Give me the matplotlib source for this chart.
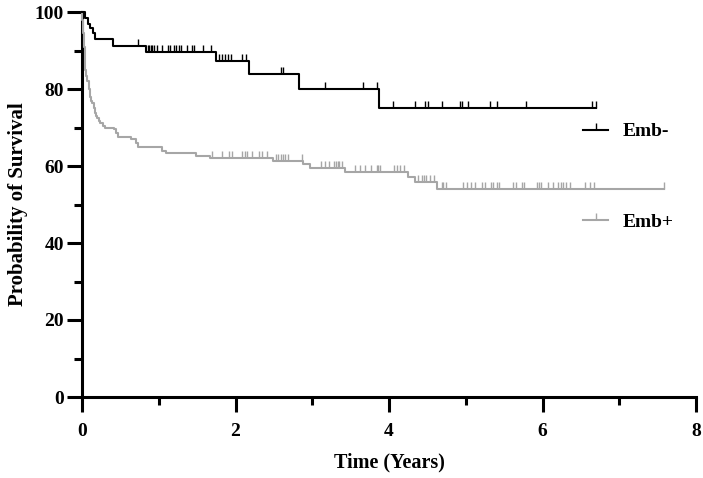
import numpy as np
import matplotlib.pyplot as plt
from matplotlib.lines import Line2D

# Emb- : step times (years) and survival (%)
neg_t = [0, 0.043, 0.078, 0.11, 0.14, 0.165, 0.40, 0.84, 1.75, 2.18, 2.83, 3.87]
neg_s = [100, 98.4, 97.0, 95.8, 94.5, 92.9, 91.2, 89.7, 87.3, 83.9, 79.9, 75.0]
neg_end = 6.70
neg_cens = [0.73, 0.856, 0.873, 0.895, 0.916, 0.934, 0.98, 1.045, 1.124, 1.146,
            1.198, 1.224, 1.263, 1.29, 1.364, 1.437, 1.463, 1.58, 1.68,
            1.785, 1.82, 1.863, 1.898, 1.941, 2.089, 2.133, 2.593, 2.623,
            3.166, 3.665, 3.848, 4.056, 4.339, 4.469, 4.512, 4.687, 4.925,
            4.955, 5.033, 5.316, 5.403, 5.781, 6.649, 6.693]

# Emb+
pos_t = [0, 0.005, 0.01, 0.017, 0.025, 0.035, 0.045, 0.055, 0.07, 0.085, 0.10,
         0.115, 0.13, 0.15, 0.165, 0.185, 0.20, 0.22, 0.24, 0.27, 0.30, 0.42,
         0.44, 0.47, 0.64, 0.70, 0.73, 1.04, 1.10, 1.49, 1.67, 2.49, 2.88,
         2.97, 3.43, 4.25, 4.34, 4.63]
pos_s = [100, 98.0, 96.5, 94.5, 91.0, 87.5, 85.0, 83.5, 82.0, 80.0, 78.0,
         77.0, 76.3, 75.0, 73.7, 73.0, 72.4, 71.7, 71.1, 70.5, 70.0, 69.5,
         68.6, 67.6, 66.9, 65.9, 64.9, 64.0, 63.5, 62.7, 62.0, 61.3, 60.4,
         59.4, 58.4, 57.1, 55.8, 54.0]
pos_end = 7.58
pos_cens = [1.70, 1.83, 1.915, 1.95, 2.09, 2.12, 2.15, 2.21, 2.31, 2.35, 2.41,
            2.53, 2.56, 2.59, 2.62, 2.65, 2.69, 2.86, 3.11, 3.17, 3.22, 3.28,
            3.31, 3.33, 3.35, 3.39, 3.56, 3.62, 3.69, 3.77, 3.84, 3.86, 3.88,
            4.06, 4.10, 4.14, 4.20, 4.38, 4.43, 4.46, 4.48, 4.53, 4.58,
            4.687, 4.708, 4.739, 4.968, 5.012, 5.064, 5.12, 5.208, 5.251,
            5.325, 5.359, 5.403, 5.433, 5.62, 5.655, 5.729, 5.759, 5.932,
            5.955, 5.977, 6.076, 6.141, 6.206, 6.238, 6.271, 6.303, 6.359,
            6.554, 6.62, 6.672, 7.58]

BLACK = '#000000'
GREY = '#a6a6a6'
FONT = 'Liberation Serif'

plt.rcParams['font.family'] = FONT
plt.rcParams['font.weight'] = 'bold'

fig = plt.figure(figsize=(7.03, 4.78), dpi=100)
ax = fig.add_axes([82 / 703, 1 - 397 / 478, 614 / 703, 385 / 478])


def km(ax, t, s, end, cens, color):
    xs = list(t) + [end]
    ys = list(s) + [s[-1]]
    ax.step(xs, ys, where='post', color=color, lw=1.5, clip_on=False, zorder=3)
    idx = np.searchsorted(t, cens, side='right') - 1
    lv = np.array(s)[idx]
    ax.plot(cens, lv, linestyle='none', marker=2, markersize=4.8,
            markeredgewidth=1.0, color=color, clip_on=False, zorder=3)


km(ax, pos_t, pos_s, pos_end, pos_cens, GREY)
km(ax, neg_t, neg_s, neg_end, neg_cens, BLACK)

ax.set_xlim(0, 8)
ax.set_ylim(0, 100)
ax.set_xticks([0, 2, 4, 6, 8])
ax.set_xticks([1, 3, 5, 7], minor=True)
ax.set_yticks([0, 20, 40, 60, 80, 100])
ax.set_yticks([10, 30, 50, 70, 90], minor=True)

for side in ['top', 'right']:
    ax.spines[side].set_visible(False)
for side in ['left', 'bottom']:
    ax.spines[side].set_linewidth(2.2)

ax.tick_params(which='major', length=11, width=2.2, labelsize=14, pad=2)
ax.tick_params(which='minor', length=6, width=2.2)
ax.tick_params(axis='x', which='major', pad=8)

ax.set_xlabel('Time (Years)', fontsize=14.5, fontweight='bold', labelpad=9)
ax.set_ylabel('Probability of Survival', fontsize=15, fontweight='bold', labelpad=5)

handles = [Line2D([], [], color=BLACK, lw=1.5, marker=2, markersize=4.8, markeredgewidth=1.0),
           Line2D([], [], color=GREY, lw=1.5, marker=2, markersize=4.8, markeredgewidth=1.0)]
ax.legend(handles, ['Emb-', 'Emb+'], loc='upper left', bbox_to_anchor=(0.816, 0.712),
          frameon=False, fontsize=14, numpoints=1, handlelength=1.3,
          handletextpad=0.75, labelspacing=3.75, borderpad=0, borderaxespad=0)

plt.savefig('out.png', dpi=100)
